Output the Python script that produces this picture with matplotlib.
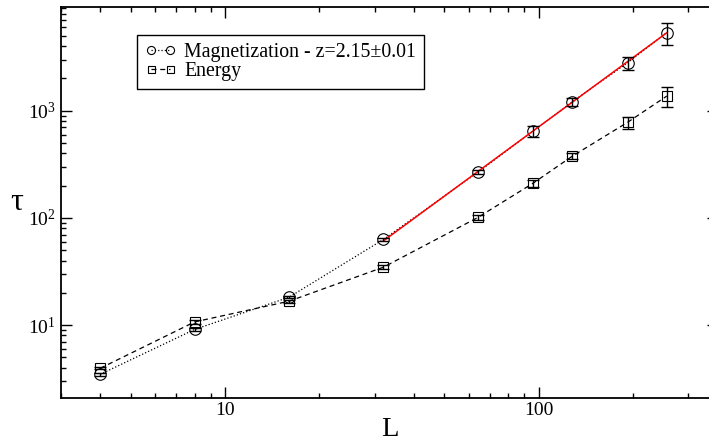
import numpy as np
import matplotlib
matplotlib.use('Agg')
import matplotlib.pyplot as plt
from matplotlib.ticker import LogLocator, NullFormatter

# Data
L = np.array([4, 8, 16, 32, 64, 96, 128, 192, 256])
tau_mag = np.array([3.47, 9.1, 18.2, 63, 267, 648, 1213, 2800, 5360])
err_mag = np.array([0.1, 0.3, 0.5, 2, 10, 74, 115, 395, 1250])
tau_ene = np.array([3.95, 10.7, 16.7, 34.7, 101, 211, 377, 780, 1370])
err_ene = np.array([0.1, 0.4, 0.6, 1.5, 5, 15, 25, 98, 280])

# Power-law fit tau ~ L^z for L >= 32
z = 2.15
fit_min = 32

plt.rcParams['font.family'] = ['Liberation Serif', 'DejaVu Serif']
plt.rcParams['mathtext.fontset'] = 'custom'
plt.rcParams['mathtext.rm'] = 'Liberation Serif'
plt.rcParams['mathtext.it'] = 'Liberation Serif:italic'

W, H = 709, 444
fig = plt.figure(figsize=(W / 100, H / 100), dpi=100, facecolor='white')

# axes placement (right spine lies just outside the image, as in the reference)
x0, x1, y_top, y_bot = 61, 718, 6.7, 397.7
dec_x = 313.7
xlim = (3, 3 * 10 ** ((x1 - x0) / dec_x))
ylim = (2.1, 9350)
ax = fig.add_axes([x0 / W, 1 - y_bot / H, (x1 - x0) / W, (y_bot - y_top) / H])
ax.set_xscale('log')
ax.set_yscale('log')
ax.set_xlim(*xlim)
ax.set_ylim(*ylim)

# error bars
ax.errorbar(L, tau_mag, yerr=err_mag, fmt='none', ecolor='black', elinewidth=1, capsize=4.3, capthick=1, zorder=3)
ax.errorbar(L, tau_ene, yerr=err_ene, fmt='none', ecolor='black', elinewidth=1, capsize=4.3, capthick=1, zorder=3)

# data lines
ax.plot(L, tau_mag, color='black', linestyle=':', linewidth=0.9, marker='o', markersize=8.3,
        mfc='none', mec='black', mew=0.8, label='Magnetization - z=2.15\u00b10.01', zorder=2)
ax.plot(L, tau_ene, color='black', linestyle=(0, (4, 3)), linewidth=0.9, marker='s', markersize=7.2,
        mfc='none', mec='black', mew=0.8, label='Energy', zorder=2)

# fit line
sel = L >= fit_min
logA = np.mean(np.log10(tau_mag[sel]) - z * np.log10(L[sel]))
Lf = L[sel]
ax.plot(Lf, 10 ** logA * Lf ** z, color='red', linewidth=1.1, zorder=2.5)

# ticks
ax.set_xticks([10, 100])
ax.set_xticklabels(['10', '100'])
ax.xaxis.set_minor_locator(LogLocator(base=10, subs=np.arange(2, 10)))
ax.xaxis.set_minor_formatter(NullFormatter())
ax.yaxis.set_minor_locator(LogLocator(base=10, subs=np.arange(2, 10)))
ax.yaxis.set_minor_formatter(NullFormatter())
ax.tick_params(which='both', direction='in', top=True, right=True, width=1, labelsize=14)
ax.tick_params(which='major', length=8)
ax.tick_params(which='minor', length=3.8)
ax.tick_params(axis='x', pad=3)
ax.tick_params(axis='y', pad=4)
for s in ax.spines.values():
    s.set_linewidth(1.3)

ax.set_xlabel('L', fontsize=20.5, labelpad=-1)
ax.set_ylabel('\u03c4', fontsize=23, rotation=0, labelpad=8, va='center')

leg = ax.legend(loc='upper left', bbox_to_anchor=((136.7 - x0) / (x1 - x0), (y_bot - 35.3) / (y_bot - y_top)),
                borderaxespad=0, fontsize=14.3, fancybox=False, framealpha=1, edgecolor='black',
                markerscale=0.7, numpoints=2, handlelength=1.6, handletextpad=0.4,
                labelspacing=0.0, borderpad=0.4)
leg.get_frame().set_linewidth(1)

fig.savefig('out.png', dpi=100)
